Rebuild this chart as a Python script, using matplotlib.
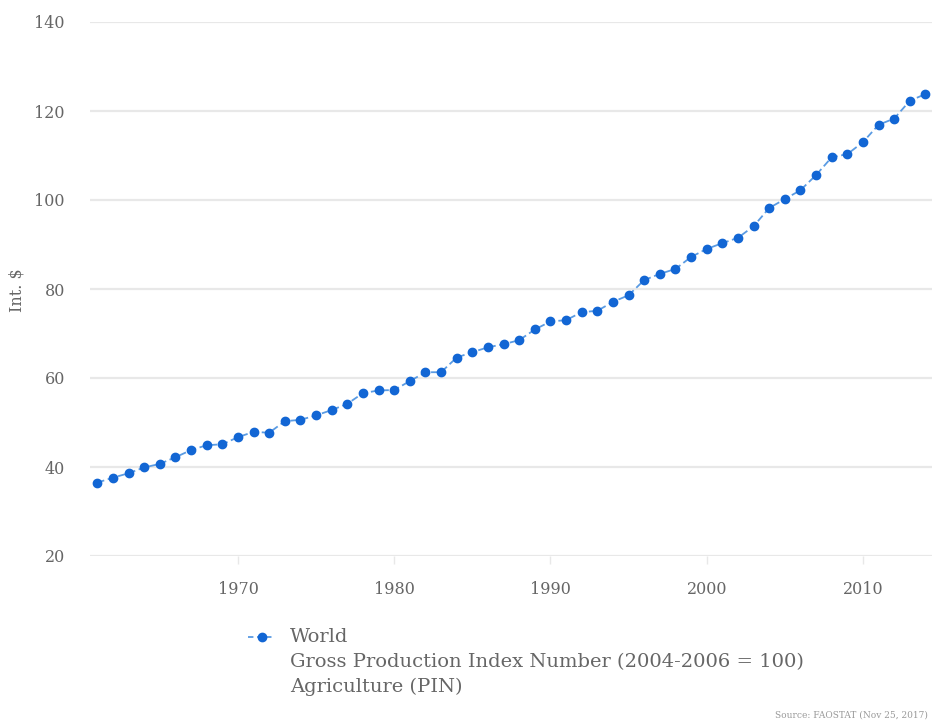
import numpy as np
from matplotlib import pyplot as plt
from matplotlib.lines import Line2D

plt.rcParams['font.family'] = ['DejaVu Serif']

years = np.arange(1961, 2015)
values = [36.5, 37.6, 38.6, 39.9, 40.7, 42.2, 43.8, 44.9, 45.1, 46.7,
          47.9, 47.7, 50.3, 50.6, 51.6, 52.8, 54.2, 56.6, 57.2, 57.3,
          59.3, 61.3, 61.3, 64.6, 65.8, 66.9, 67.6, 68.5, 70.9, 72.7,
          73.0, 74.8, 75.1, 77.1, 78.6, 82.0, 83.4, 84.5, 87.2, 89.0,
          90.3, 91.5, 94.1, 98.2, 100.2, 102.2, 105.6, 109.6, 110.3, 113.0,
          116.9, 118.3, 122.3, 123.8]
yticks = [20, 40, 60, 80, 100, 120, 140]
xticks = [1970, 1980, 1990, 2000, 2010]

series_name = 'World'
legend_lines = ['Gross Production Index Number (2004-2006 = 100)', 'Agriculture (PIN)']
line_col = '#5a9be3'
mark_col = '#1266d4'
text_col = '#666666'
grid_col = '#e8e8e8'

fig = plt.figure(figsize=(9.32, 7.22), dpi=100)
ax = fig.add_axes([90/932, 1-556/722, 1-90/932, (556-22)/722])

ax.plot(years, values, color=line_col, linestyle=(0, (4, 2)), linewidth=1.3,
        marker='o', markersize=6, markerfacecolor=mark_col, markeredgecolor=mark_col,
        zorder=3, clip_on=False)

ax.set_xlim(1960.53, 2014.42)
ax.set_ylim(20, 140)
ax.set_yticks(yticks)
ax.set_xticks(xticks)
ax.grid(axis='y', color=grid_col, linewidth=1.6)
ax.set_axisbelow(True)
for s in ax.spines.values():
    s.set_visible(False)
ax.tick_params(axis='y', length=0, pad=18, labelsize=11.5, labelcolor=text_col)
ax.tick_params(axis='x', length=6, width=1, color=grid_col, pad=12, labelsize=11.5, labelcolor=text_col)
ax.set_ylabel('Int. $', fontsize=11.5, color=text_col)
ax.yaxis.set_label_coords(-64/842, (556-290)/534)

# legend
fig.add_artist(Line2D([248/932, 275/932], [1-637/722, 1-637/722], color=line_col,
                      linestyle=(0, (3, 2)), linewidth=1.3))
fig.add_artist(Line2D([261.5/932], [1-637/722], color=mark_col, marker='o', markersize=6,
                      linestyle='none'))
fig.text(290/932, 1-637/722, series_name, fontsize=14, color=text_col, va='center')
for i, t in enumerate(legend_lines):
    fig.text(290/932, 1-(662+25*i)/722, t, fontsize=14, color=text_col, va='center')

fig.text(928/932, 1-715/722, 'Source: FAOSTAT (Nov 25, 2017)', fontsize=6.5,
         color='#999999', ha='right', va='center')

fig.savefig('out.png', dpi=100)
